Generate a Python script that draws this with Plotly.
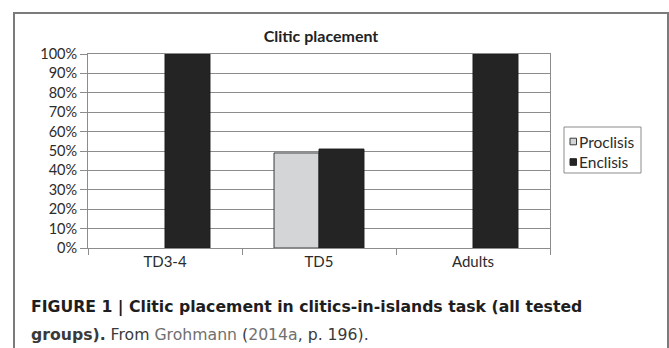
import plotly.graph_objects as go

# Data: share of clitic placements per tested group
groups = ["TD3-4", "TD5", "Adults"]
proclisis = [0, 49, 0]
enclisis = [100, 51, 100]
y_ticks = list(range(0, 101, 10))
y_tick_text = [f"{v}%" for v in y_ticks]
series_names = ["Proclisis", "Enclisis"]

# Figure geometry (pixels)
W, H = 669, 348
L, R, T, B = 88, 119, 54, 100
PW = W - L - R
PH = H - T - B


def px(x):
    """Pixel x -> paper x."""
    return (x - L) / PW


def py(y):
    """Pixel y (from top) -> paper y."""
    return (H - B - y) / PH


PROC_COLOR = "#d3d5d7"
ENC_COLOR = "#242424"
GRID = "#8c8c8c"
CHART_FONT = "Lato"
TEXT_COLOR = "#2b2b2b"

fig = go.Figure()
fig.add_bar(
    x=groups, y=proclisis, name=series_names[0],
    marker=dict(color=PROC_COLOR,
                line=dict(color="#3a3a3a",
                          width=[1 if v > 0 else 0 for v in proclisis])),
)
fig.add_bar(
    x=groups, y=enclisis, name=series_names[1],
    marker=dict(color=ENC_COLOR,
                line=dict(color="#1c1c1c",
                          width=[1 if v > 0 else 0 for v in enclisis])),
)

fig.update_layout(
    width=W, height=H,
    margin=dict(l=L, r=R, t=T, b=B, pad=0),
    paper_bgcolor="white", plot_bgcolor="white",
    barmode="group", bargap=0.416, bargroupgap=0,
    showlegend=False,
    title=dict(
        text="Clitic placement",
        x=px(321), xref="paper", xanchor="center",
        y=1 - 36 / H, yref="container", yanchor="middle",
        font=dict(family=CHART_FONT, size=16, color="#222222", weight=700),
    ),
    font=dict(family=CHART_FONT, size=14.5, color=TEXT_COLOR),
)

fig.update_xaxes(
    showline=True, mirror=True, linecolor=GRID, linewidth=1,
    ticks="outside", tickson="boundaries", ticklen=6, tickcolor=GRID,
    tickfont=dict(family=CHART_FONT, size=15, color=TEXT_COLOR),
    showgrid=False,
)
fig.update_yaxes(
    range=[0, 100], tickvals=y_ticks, ticktext=y_tick_text,
    showgrid=True, gridcolor=GRID, gridwidth=1, zeroline=False,
    showline=True, mirror=True, linecolor=GRID, linewidth=1,
    ticks="outside", ticklen=7, tickcolor=GRID,
    tickfont=dict(family=CHART_FONT, size=14.5, color=TEXT_COLOR),
)

# Outer frame around the figure panel (open at the bottom edge)
fig.add_shape(
    type="rect", xref="paper", yref="paper",
    x0=px(14), x1=px(668), y0=py(356), y1=py(13),
    line=dict(color="#7b7b7b", width=2), fillcolor="rgba(0,0,0,0)",
)

# Legend box with swatches
fig.add_shape(
    type="rect", xref="paper", yref="paper",
    x0=px(564), x1=px(641), y0=py(173), y1=py(127),
    line=dict(color="#8c8c8c", width=1), fillcolor="white",
)
legend_rows = [(series_names[0], PROC_COLOR, "#3a3a3a", 141.5),
               (series_names[1], ENC_COLOR, ENC_COLOR, 162)]
for name, fill, edge, yc in legend_rows:
    fig.add_shape(
        type="rect", xref="paper", yref="paper",
        x0=px(570), x1=px(576.5), y0=py(yc + 3.3), y1=py(yc - 3.3),
        line=dict(color=edge, width=1), fillcolor=fill,
    )
    fig.add_annotation(
        text=name, xref="paper", yref="paper",
        x=px(577), y=py(yc), xanchor="left", yanchor="middle",
        showarrow=False,
        font=dict(family=CHART_FONT, size=15.5, color=TEXT_COLOR),
    )

# Figure caption
CAP_FONT = "DejaVu Sans"
LINK = "#707070"
caption_1 = "<b>FIGURE 1 | Clitic placement in clitics-in-islands task (all tested</b>"
caption_2 = (
    "<b>groups).</b> From "
    f"<span style='color:{LINK}'>Grohmann</span> ("
    f"<span style='color:{LINK}'>2014a</span>, p. 196)."
)
fig.add_annotation(
    text=caption_1, xref="paper", yref="paper",
    x=px(29), y=py(307), xanchor="left", yanchor="middle",
    showarrow=False, font=dict(family=CAP_FONT, size=15.7, color="#1e1e1e"),
)
fig.add_annotation(
    text=caption_2, xref="paper", yref="paper",
    x=px(29), y=py(334), xanchor="left", yanchor="middle",
    showarrow=False, font=dict(family=CAP_FONT, size=15.7, color="#3a3a3a"),
)

fig.write_html("out.html")
